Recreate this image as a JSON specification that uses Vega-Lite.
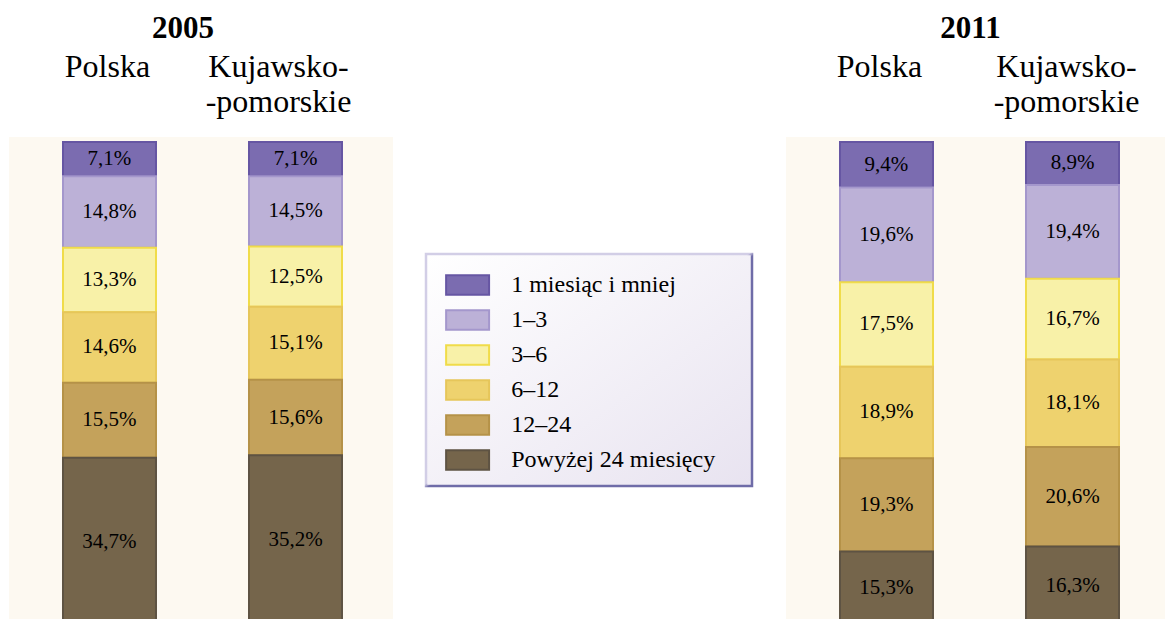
{
  "$schema": "https://vega.github.io/schema/vega-lite/v6.json",
  "background": "white",
  "padding": {"left": 9, "top": 13, "right": 0, "bottom": 0},
  "spacing": 390,
  "datasets": {
    "d2005": [
      {"region": "Polska", "cat": "1 miesiąc i mniej", "k": 6, "value": 0.071},
      {"region": "Polska", "cat": "1–3", "k": 5, "value": 0.148},
      {"region": "Polska", "cat": "3–6", "k": 4, "value": 0.133},
      {"region": "Polska", "cat": "6–12", "k": 3, "value": 0.146},
      {"region": "Polska", "cat": "12–24", "k": 2, "value": 0.155},
      {"region": "Polska", "cat": "Powyżej 24 miesięcy", "k": 1, "value": 0.347},
      {"region": "Kujawsko-pomorskie", "cat": "1 miesiąc i mniej", "k": 6, "value": 0.071},
      {"region": "Kujawsko-pomorskie", "cat": "1–3", "k": 5, "value": 0.145},
      {"region": "Kujawsko-pomorskie", "cat": "3–6", "k": 4, "value": 0.125},
      {"region": "Kujawsko-pomorskie", "cat": "6–12", "k": 3, "value": 0.151},
      {"region": "Kujawsko-pomorskie", "cat": "12–24", "k": 2, "value": 0.156},
      {"region": "Kujawsko-pomorskie", "cat": "Powyżej 24 miesięcy", "k": 1, "value": 0.352}
    ],
    "d2011": [
      {"region": "Polska", "cat": "1 miesiąc i mniej", "k": 6, "value": 0.094},
      {"region": "Polska", "cat": "1–3", "k": 5, "value": 0.196},
      {"region": "Polska", "cat": "3–6", "k": 4, "value": 0.175},
      {"region": "Polska", "cat": "6–12", "k": 3, "value": 0.189},
      {"region": "Polska", "cat": "12–24", "k": 2, "value": 0.193},
      {"region": "Polska", "cat": "Powyżej 24 miesięcy", "k": 1, "value": 0.153},
      {"region": "Kujawsko-pomorskie", "cat": "1 miesiąc i mniej", "k": 6, "value": 0.089},
      {"region": "Kujawsko-pomorskie", "cat": "1–3", "k": 5, "value": 0.194},
      {"region": "Kujawsko-pomorskie", "cat": "3–6", "k": 4, "value": 0.167},
      {"region": "Kujawsko-pomorskie", "cat": "6–12", "k": 3, "value": 0.181},
      {"region": "Kujawsko-pomorskie", "cat": "12–24", "k": 2, "value": 0.206},
      {"region": "Kujawsko-pomorskie", "cat": "Powyżej 24 miesięcy", "k": 1, "value": 0.163}
    ]
  },
  "hconcat": [
    {
      "title": {"text": "2005", "dx": -18},
      "width": 384,
      "height": 484,
      "data": {"name": "d2005"},
      "layer": [
        {
          "mark": {"type": "bar", "clip": true, "strokeWidth": 2, "opacity": 1},
          "encoding": {
            "x": {"field": "region", "type": "nominal", "sort": ["Polska", "Kujawsko-pomorskie"],
              "scale": {"range": [0, 387], "paddingInner": 0.5, "paddingOuter": 0.2903},
              "axis": {"labelOffset": {"expr": "datum.value == 'Polska' ? -2 : -17"}}},
            "y": {"field": "value", "type": "quantitative", "stack": "zero",
              "scale": {"domain": [0.0091, 1.0103], "zero": false, "nice": false}, "axis": null},
            "order": {"field": "k", "type": "quantitative", "sort": "ascending"},
            "color": {"field": "cat", "type": "nominal",
              "scale": {"domain": ["1 miesiąc i mniej", "1–3", "3–6", "6–12", "12–24", "Powyżej 24 miesięcy"],
                "range": ["#7b6cb0", "#bcb1d7", "#f8f1a8", "#eed26e", "#c4a25b", "#75654b"]},
              "legend": {"labelExpr": "datum.label + '\u00a0\u00a0\u00a0\u00a0\u200b'"}},
            "stroke": {"field": "cat", "type": "nominal",
              "scale": {"domain": ["1 miesiąc i mniej", "1–3", "3–6", "6–12", "12–24", "Powyżej 24 miesięcy"],
                "range": ["#6656a3", "#a497cc", "#f0dc4a", "#e6c65a", "#b59248", "#5e5343"]},
              "legend": {"labelExpr": "datum.label + '\u00a0\u00a0\u00a0\u00a0\u200b'"}}
          }
        },
        {
          "mark": {"type": "text", "fill": "#000000", "fontSize": 21, "font": "Liberation Serif", "baseline": "middle", "align": "center"},
          "encoding": {
            "x": {"field": "region", "type": "nominal", "sort": ["Polska", "Kujawsko-pomorskie"]},
            "y": {"field": "value", "type": "quantitative", "stack": "zero", "bandPosition": 0.5},
            "order": {"field": "k", "type": "quantitative", "sort": "ascending"},
            "text": {"field": "value", "type": "quantitative", "format": ".1%"}
          }
        }
      ]
    },
    {
      "title": {"text": "2011", "dx": -5},
      "width": 379,
      "height": 484,
      "data": {"name": "d2011"},
      "layer": [
        {
          "mark": {"type": "bar", "clip": true, "strokeWidth": 2, "opacity": 1},
          "encoding": {
            "x": {"field": "region", "type": "nominal", "sort": ["Polska", "Kujawsko-pomorskie"],
              "scale": {"range": [0, 387], "paddingInner": 0.5, "paddingOuter": 0.2903},
              "axis": {"labelOffset": {"expr": "datum.value == 'Polska' ? -7 : -6"}}},
            "y": {"field": "value", "type": "quantitative", "stack": "zero",
              "scale": {"domain": [0.0091, 1.0103], "zero": false, "nice": false}, "axis": null},
            "order": {"field": "k", "type": "quantitative", "sort": "ascending"},
            "color": {"field": "cat", "type": "nominal",
              "legend": {"labelExpr": "datum.label + '\u00a0\u00a0\u00a0\u00a0\u200b'"}},
            "stroke": {"field": "cat", "type": "nominal",
              "legend": {"labelExpr": "datum.label + '\u00a0\u00a0\u00a0\u00a0\u200b'"}}
          }
        },
        {
          "mark": {"type": "text", "fill": "#000000", "fontSize": 21, "font": "Liberation Serif", "baseline": "middle", "align": "center"},
          "encoding": {
            "x": {"field": "region", "type": "nominal", "sort": ["Polska", "Kujawsko-pomorskie"]},
            "y": {"field": "value", "type": "quantitative", "stack": "zero", "bandPosition": 0.5},
            "order": {"field": "k", "type": "quantitative", "sort": "ascending"},
            "text": {"field": "value", "type": "quantitative", "format": ".1%"}
          }
        }
      ]
    }
  ],
  "config": {
    "locale": {"number": {"decimal": ",", "thousands": " ", "grouping": [3], "currency": ["", " zł"]}},
    "font": "Liberation Serif",
    "view": {"fill": "#fdf9f1", "stroke": null},
    "title": {"font": "Liberation Serif", "fontSize": 31, "fontWeight": "bold", "color": "#000000", "anchor": "middle", "frame": "group", "offset": 5},
    "axis": {"orient": "top", "domain": false, "ticks": false, "tickSize": 0, "grid": false, "title": null,
      "labelFont": "Liberation Serif", "labelFontSize": 32, "labelLineHeight": 35, "labelColor": "#000000",
      "labelPadding": 54, "labelAngle": 0, "labelLimit": 0,
      "labelExpr": "datum.value == 'Polska' ? ['Polska', ' '] : ['Kujawsko-', '-pomorskie']"},
    "legend": {"orient": "none", "legendX": 417, "legendY": 117, "title": null,
      "padding": 12, "symbolOffset": 10.6, "rowPadding": 2, "labelOffset": 24.6, "labelLimit": 0,
      "labelFont": "Liberation Serif", "labelFontSize": 24, "labelColor": "#000000",
      "symbolType": "M-1.2,-0.54H1.2V0.54H-1.2Z", "symbolSize": 1282, "symbolStrokeWidth": 2, "symbolOpacity": 1,
      "strokeWidth": 2.5,
      "strokeColor": {"value": {"gradient": "linear", "x1": 0, "y1": 0, "x2": 1, "y2": 1,
        "stops": [{"offset": 0, "color": "#d2cee6"}, {"offset": 0.495, "color": "#d2cee6"}, {"offset": 0.505, "color": "#6f6ca8"}, {"offset": 1, "color": "#6f6ca8"}]}},
      "fillColor": {"value": {"gradient": "linear", "x1": 0, "y1": 0, "x2": 1, "y2": 1,
        "stops": [{"offset": 0, "color": "#ffffff"}, {"offset": 1, "color": "#e8e3f0"}]}}}
  }
}
